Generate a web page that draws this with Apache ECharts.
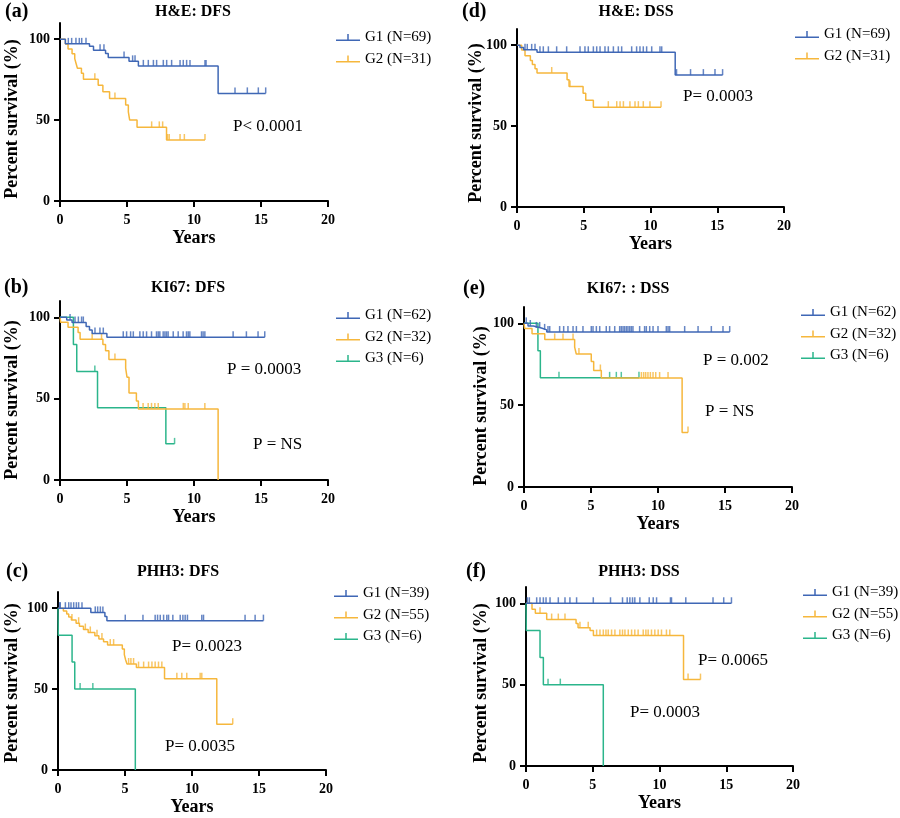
<!DOCTYPE html>
<html><head><meta charset="utf-8">
<script src="https://cdn.jsdelivr.net/npm/echarts@6/dist/echarts.min.js"></script>
<style>html,body{margin:0;padding:0;background:#fff}#c{width:900px;height:818px}</style>
</head><body><div id="c"></div><script>
// ---- tick labels ----
const xTicks = [0, 5, 10, 15, 20];
const yTicks = [0, 50, 100];

// ---- legend names ----
const legendHE = ['G1 (N=69)', 'G2 (N=31)'];
const legendKI = ['G1 (N=62)', 'G2 (N=32)', 'G3 (N=6)'];
const legendPH = ['G1 (N=39)', 'G2 (N=55)', 'G3 (N=6)'];

// ---- p-value texts ----
const pA = ['P< 0.0001'];
const pD = ['P= 0.0003'];
const pB = ['P = 0.0003', 'P = NS'];
const pE = ['P = 0.002', 'P = NS'];
const pC = ['P= 0.0023', 'P= 0.0035'];
const pF = ['P= 0.0065', 'P= 0.0003'];

// ---- survival data: steps [years, % survival], censor times (years) ----
const aG1Steps = [[0,100],[0.4,97.1],[2.2,95.6],[2.5,93.1],[3.4,91.2],[3.6,88.7],[5.15,86.3],[5.85,83.5],[11.8,66.5]];
const aG1Censor = [0.62,0.87,1.19,1.44,1.62,1.94,2.99,3.28,4.78,5.42,5.6,6.22,6.59,6.97,7.21,7.71,7.96,8.33,8.96,9.2,9.45,9.7,10.82,10.9,13.06,13.98,14.8,15.35];
const aG2Steps = [[0,100],[0.4,97],[0.6,94],[0.9,91],[1.1,88],[1.2,85],[1.3,82],[1.6,79],[1.75,75.3],[2.85,71.6],[3.2,67.5],[3.7,63.4],[4.9,59.3],[5.1,55.1],[5.2,50],[5.75,45.5],[7.95,37.7]];
const aG2Censor = [2.6,4.1,6.84,7.41,7.66,8.03,8.15,8.96,9.28,10.82];

const dG1Steps = [[0,100],[0.22,98.6],[0.5,97.1],[1.5,95.6],[11.85,81.5]];
const dG1Censor = [0.6,0.77,1.1,1.35,1.72,1.97,2.35,2.97,3.72,4.72,5.09,5.34,5.72,5.97,6.22,6.59,6.84,7.22,7.59,7.84,8.59,8.96,9.21,9.46,9.71,10.09,10.71,10.84,11.95,13.0,13.96,14.83,15.4];
const dG2Steps = [[0,100],[0.35,97],[0.6,93.5],[1.0,90.5],[1.15,88],[1.35,85.5],[1.5,82.8],[3.75,78.6],[3.9,74.5],[4.95,70.3],[5.15,66],[5.72,61.7]];
const dG2Censor = [2.6,3.97,6.84,7.47,7.72,7.97,8.46,8.84,9.09,9.46,9.96,10.79];

const bG1Steps = [[0,100],[0.5,98.4],[0.9,96.8],[1.95,94.4],[2.2,92.2],[2.4,90],[3.5,87.7]];
const bG1Censor = [0.75,1.12,1.37,1.61,1.74,2.61,2.98,3.23,4.72,4.97,5.27,5.47,5.96,6.21,6.46,6.83,7.2,7.33,7.45,7.7,7.83,7.95,8.07,8.45,8.82,9.19,9.44,9.57,9.69,10.56,10.68,10.81,12.92,13.91,14.78,15.28];
const bG2Steps = [[0,100],[0.05,96.9],[0.6,93.8],[1.35,90.6],[1.5,86.5],[3.2,83.2],[3.4,79.5],[3.65,74],[4.9,68.8],[5.0,63.2],[5.15,53.5],[5.7,48.5],[5.85,43.7],[11.8,0]];
const bG2Censor = [2.4,3.1,4.1,6.2,6.58,6.83,7.08,7.33,9.2,9.32,9.57,10.81];
const bG3Steps = [[0,100],[1.0,83.3],[1.25,66.7],[2.8,44.4],[7.9,22.2]];
const bG3Censor = [2.6,8.55];

const eG1Steps = [[0,100],[0.3,98.4],[0.7,97.2],[1.3,96],[1.7,94.7]];
const eG1Censor = [0.17,0.47,0.92,1.17,1.54,1.79,1.92,2.66,2.96,3.28,3.66,3.91,4.4,5.02,5.15,5.4,5.65,6.14,6.39,6.77,7.14,7.26,7.39,7.51,7.64,7.76,7.89,8.01,8.13,8.63,9.0,9.13,9.38,9.63,10.0,10.62,10.75,10.87,11.99,12.99,13.98,14.85,15.35];
const eG2Steps = [[0,100],[0.05,96.9],[0.6,93.6],[1.55,90.2],[3.78,85.5],[3.9,81.3],[5.02,76.7],[5.2,71.2],[5.77,66.6],[11.8,33.3]];
const eG2Censor = [2.29,2.91,3.66,4.1,5.7,8.76,8.93,9.08,9.25,9.43,9.63,9.83,10.12,10.75,12.24];
const eG3Steps = [[0,100],[1.04,83.3],[1.22,66.7]];
const eG3Censor = [2.61,6.39,6.89,7.26,8.58];

const cG1Steps = [[0,100],[2.45,97.4],[3.5,94.9],[3.65,92.3]];
const cG1Censor = [0.12,0.17,0.55,0.8,0.97,1.17,1.37,1.54,1.79,2.78,2.96,3.16,3.35,5.02,6.34,7.25,7.43,7.63,7.88,8.12,8.25,8.57,9.12,9.32,9.49,9.66,10.73,10.86,13.96,14.71,15.33];
const cG2Steps = [[0,100],[0.4,98.2],[0.65,96.4],[0.8,94.6],[1.0,92.7],[1.35,90.7],[1.6,88.8],[1.9,86.8],[2.25,85],[2.75,83],[3.05,81],[3.4,79.2],[3.7,77.2],[4.8,74.8],[4.95,71.3],[5.05,68],[5.15,65.5],[5.85,63.3],[7.95,56.4],[11.85,28.3]];
const cG2Censor = [1.04,1.54,2.04,2.41,2.91,3.28,3.9,4.15,5.27,5.44,5.64,6.01,6.39,6.76,7.01,7.25,7.5,7.75,8.87,9.24,9.61,10.61,10.73,13.04];
const cG3Steps = [[0,100],[0.02,83.3],[1.05,66.7],[1.25,50],[5.77,0]];
const cG3Censor = [1.65,2.6];

const fG1Steps = [[0,100]];
const fG1Censor = [0.1,0.25,0.8,1.05,1.3,1.5,1.8,2.42,2.92,3.29,3.79,5.04,6.33,7.23,7.58,7.78,7.98,8.15,8.53,9.23,9.53,9.78,10.82,10.9,11.97,14.01,14.81,15.39];
const fG2Steps = [[0,100],[0.45,96.4],[0.7,93.8],[1.55,90],[3.75,87.5],[3.9,85],[4.8,83.2],[5.05,80.2],[11.8,53.1]];
const fG2Censor = [1.05,1.92,2.42,2.92,4.04,4.66,5.29,5.54,5.79,5.99,6.16,6.41,6.66,7.03,7.23,7.41,7.66,7.91,8.15,8.4,8.78,8.98,9.15,9.4,9.65,9.9,10.15,10.52,10.77,12.14,13.07];
const fG3Steps = [[0,100],[0.02,83.3],[1.05,66.7],[1.3,50],[5.79,0]];
const fG3Censor = [1.65,2.57];

// ---- styling / layout ----
const COLORS = ['#3f67b5', '#f6b73c', '#2bb58b'];
const FONT = '"Liberation Serif","Times New Roman",serif';
const ICON = 'path://M0,5.5L24,5.5L24,7L0,7Z M11.25,0L12.75,0L12.75,5.5L11.25,5.5Z';

const panels = [
  {letter:'(a)', title:'H&E: DFS', grid:{left:60,top:23,width:268,height:178}, letterPos:[5,12], titlePos:[193,12], yname:[12,119],
   legend:{left:336,top:30}, names:legendHE, curves:[[aG1Steps,aG1Censor],[aG2Steps,aG2Censor]], p:pA, pPos:[[233,127]]},
  {letter:'(d)', title:'H&E: DSS', grid:{left:517,top:29,width:267,height:178}, letterPos:[462,12], titlePos:[636,12], yname:[476,123],
   legend:{left:795,top:27}, names:legendHE, curves:[[dG1Steps,dG1Censor],[dG2Steps,dG2Censor]], p:pD, pPos:[[683,97]]},
  {letter:'(b)', title:'KI67: DFS', grid:{left:60,top:301,width:268,height:179}, letterPos:[4,288], titlePos:[188,288], yname:[12,400],
   legend:{left:336,top:308}, names:legendKI, curves:[[bG1Steps,bG1Censor],[bG2Steps,bG2Censor],[bG3Steps,bG3Censor]], p:pB, pPos:[[227,370],[253,445]]},
  {letter:'(e)', title:'KI67: : DSS', grid:{left:524,top:307,width:268,height:180}, letterPos:[463,289], titlePos:[628,289], yname:[481,406],
   legend:{left:801,top:305}, names:legendKI, curves:[[eG1Steps,eG1Censor],[eG2Steps,eG2Censor],[eG3Steps,eG3Censor]], p:pE, pPos:[[703,361],[705,412]]},
  {letter:'(c)', title:'PHH3: DFS', grid:{left:58,top:592,width:268,height:178}, letterPos:[6,572], titlePos:[178,572], yname:[12,683],
   legend:{left:334,top:586}, names:legendPH, curves:[[cG1Steps,cG1Censor],[cG2Steps,cG2Censor],[cG3Steps,cG3Censor]], p:pC, pPos:[[172,647],[165,747]]},
  {letter:'(f)', title:'PHH3: DSS', grid:{left:526,top:587,width:267,height:179}, letterPos:[466,572], titlePos:[639,572], yname:[481,683],
   legend:{left:803,top:585}, names:legendPH, curves:[[fG1Steps,fG1Censor],[fG2Steps,fG2Censor],[fG3Steps,fG3Censor]], p:pF, pPos:[[698,661],[630,713]]}
];

function survAt(steps, t) {
  let s = steps[0][1];
  for (const p of steps) { if (p[0] <= t) s = p[1]; else break; }
  return s;
}
function lineData(steps, censor) {
  const d = steps.map(p => [p[0], p[1]]);
  const last = steps[steps.length - 1];
  const end = Math.max(last[0], ...censor);
  if (end > last[0]) d.push([end, last[1]]);
  return d;
}

const grids = [], xAxes = [], yAxes = [], series = [], legends = [], graphics = [];
const axisText = {fontFamily: FONT, fontWeight: 'bold', fontSize: 14, color: '#000'};

panels.forEach((p, i) => {
  grids.push(Object.assign({containLabel: false, outerBoundsMode: 'none'}, p.grid));
  xAxes.push({
    gridIndex: i, type: 'value', min: xTicks[0], max: xTicks[xTicks.length - 1], interval: xTicks[1] - xTicks[0],
    name: 'Years', nameLocation: 'middle', nameGap: 28,
    nameTextStyle: {fontFamily: FONT, fontWeight: 'bold', fontSize: 18, color: '#000'},
    axisLine: {show: true, onZero: false, lineStyle: {color: '#000', width: 2}},
    axisTick: {show: true, length: 6, lineStyle: {color: '#000', width: 2}},
    axisLabel: Object.assign({margin: 12}, axisText),
    splitLine: {show: false}
  });
  yAxes.push({
    gridIndex: i, type: 'value', min: 0, max: 110, interval: 50,
    axisLine: {show: true, onZero: false, lineStyle: {color: '#000', width: 2}},
    axisTick: {show: true, length: 6, customValues: yTicks, lineStyle: {color: '#000', width: 2}},
    axisLabel: Object.assign({margin: 10, customValues: yTicks}, axisText),
    splitLine: {show: false}
  });
  p.curves.forEach((c, k) => {
    const [steps, censor] = c;
    series.push({
      type: 'line', name: p.names[k], xAxisIndex: i, yAxisIndex: i,
      data: lineData(steps, censor), step: 'end', showSymbol: false, symbol: 'none',
      lineStyle: {color: COLORS[k], width: 1.5}, itemStyle: {color: COLORS[k]},
      silent: true, animation: false, z: 3 - k
    });
    series.push({
      type: 'scatter', name: p.names[k] + ' censored', xAxisIndex: i, yAxisIndex: i,
      data: censor.map(t => [t, survAt(steps, t)]),
      symbol: 'rect', symbolSize: [1.5, 6], symbolOffset: [0, -3],
      itemStyle: {color: COLORS[k]}, silent: true, animation: false, z: 3 - k
    });
  });
  legends.push({
    left: p.legend.left, top: p.legend.top, orient: 'vertical', padding: 0,
    itemWidth: 24, itemHeight: 7, itemGap: 6.5, selectedMode: false,
    textStyle: {fontFamily: FONT, fontSize: 15, color: '#000'},
    itemStyle: {borderWidth: 0},
    data: p.names.map((n, k) => ({name: n, icon: ICON, itemStyle: {color: COLORS[k], borderWidth: 0}}))
  });
  graphics.push({type: 'text', x: p.letterPos[0], y: p.letterPos[1],
    style: {text: p.letter, font: 'bold 20px ' + FONT, fill: '#000', align: 'left', verticalAlign: 'middle'}});
  graphics.push({type: 'text', x: p.titlePos[0], y: p.titlePos[1],
    style: {text: p.title, font: 'bold 16px ' + FONT, fill: '#000', align: 'center', verticalAlign: 'middle'}});
  graphics.push({type: 'text', x: p.yname[0], y: p.yname[1], rotation: Math.PI / 2,
    style: {text: 'Percent survival (%)', font: 'bold 18px ' + FONT, fill: '#000', align: 'center', verticalAlign: 'middle'}});
  p.p.forEach((txt, j) => {
    graphics.push({type: 'text', x: p.pPos[j][0], y: p.pPos[j][1],
      style: {text: txt, font: '17px ' + FONT, fill: '#000', align: 'left', verticalAlign: 'middle'}});
  });
});

const chart = echarts.init(document.getElementById('c'), null, {renderer: 'canvas'});
chart.setOption({
  animation: false,
  backgroundColor: '#fff',
  grid: grids, xAxis: xAxes, yAxis: yAxes, series: series, legend: legends,
  graphic: {elements: graphics}
});
</script></body></html>
